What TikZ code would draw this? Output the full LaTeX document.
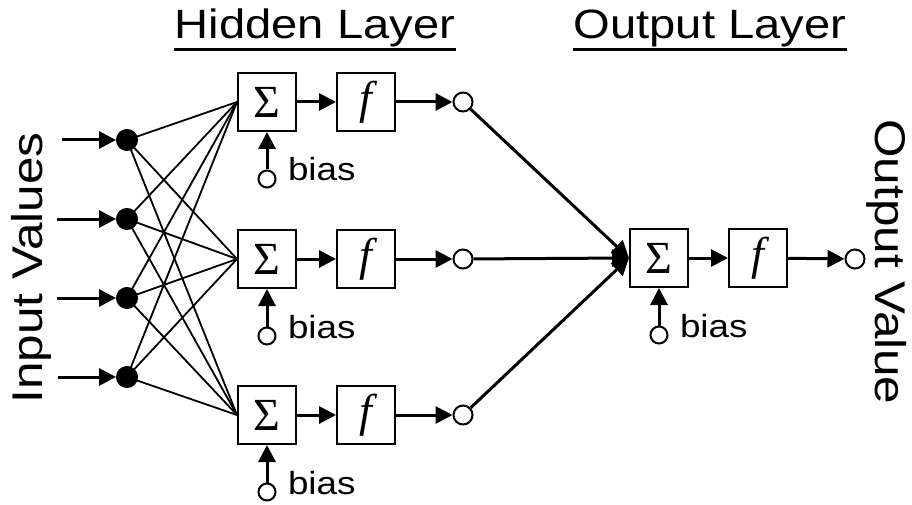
\documentclass[tikz,border=0pt]{standalone}
\usepackage{fontspec}
\setmainfont{Liberation Sans}[FakeStretch=1.15]
\newfontfamily\mathface{Liberation Serif}
\usetikzlibrary{arrows.meta}

\begin{document}
\begin{tikzpicture}[x=1pt,y=-1pt,line width=2pt,
  blk/.style={draw,line width=2pt,minimum width=58pt,minimum height=58pt,inner sep=0pt,
    font=\mathface\fontsize{46}{46}\selectfont},
  inp/.style={circle,draw,line width=1pt,fill=black,minimum size=21pt,inner sep=0pt},
  outc/.style={circle,draw,line width=2pt,fill=white,minimum size=19pt,inner sep=0pt},
  biasc/.style={circle,draw,line width=2pt,fill=white,minimum size=17pt,inner sep=0pt},
  lbl/.style={font=\fontsize{32}{32}\selectfont,anchor=base west,inner sep=0pt},
  title/.style={font=\fontsize{41}{41}\selectfont,anchor=base,inner sep=0pt},
  side/.style={font=\fontsize{43}{43}\selectfont,inner sep=0pt},
  arr/.style={line width=3pt,-{Triangle[length=17pt,width=17pt]}},
  wire/.style={line width=1.8pt}
]
\useasboundingbox (0,0) rectangle (912,505);

% titles
\node[title] (th) at (315,39) {Hidden Layer};
\node[title] (to) at (710,39) {Output Layer};
\draw[line width=3pt] ([yshift=-11pt]th.base west) -- ([yshift=-11pt]th.base east);
\draw[line width=3pt] ([yshift=-11pt]to.base west) -- ([yshift=-11pt]to.base east);

% side labels
\node[side,rotate=90] (iv) at (31,268) {Input Values};
\node[side,rotate=-90] (ov) at (887,262) {Output Value};

% hidden layer
\foreach \j/\y in {1/102,2/259,3/415}{
  \node[blk] (sum\j) at (267,\y) {Σ};
  \node[blk] (f\j) at (366,\y) {\itshape f};
  \node[outc] (h\j) at (463,\y) {};
  \node[biasc] (b\j) at (267,\y+77) {};
  \node[lbl] (bl\j) at (287,\y+79) {bias};
  \draw[arr] (sum\j) -- (f\j);
  \draw[arr] (f\j) -- (h\j);
  \draw[arr] (b\j) -- (sum\j);
}

% output layer
\node[blk] (osum) at (659,258) {Σ};
\node[blk] (of) at (758,258) {\itshape f};
\node[outc] (oc) at (855,259) {};
\node[biasc] (ob) at (659,335) {};
\node[lbl] (obl) at (679,337) {bias};
\draw[arr] (osum) -- (of);
\draw[arr] (of) -- (oc);
\draw[arr] (ob) -- (osum);

% input nodes: weights first, then the filled dots on top
\foreach \i/\y/\s in {1/140/62,2/219/57,3/298/57,4/377/58}{
  \coordinate (pos\i) at (127,\y);
  \coordinate (src\i) at (\s,\y);
  \foreach \j in {1,2,3}{
    \draw[wire] (pos\i) -- (sum\j.west);
  }
  \node[inp] (in\i) at (pos\i) {};
  \draw[arr] (src\i) -- (in\i);
}

% hidden outputs into the output neuron
\foreach \j in {1,2,3}{
  \draw[arr] (h\j) -- (osum.west);
}
\end{tikzpicture}
\end{document}
